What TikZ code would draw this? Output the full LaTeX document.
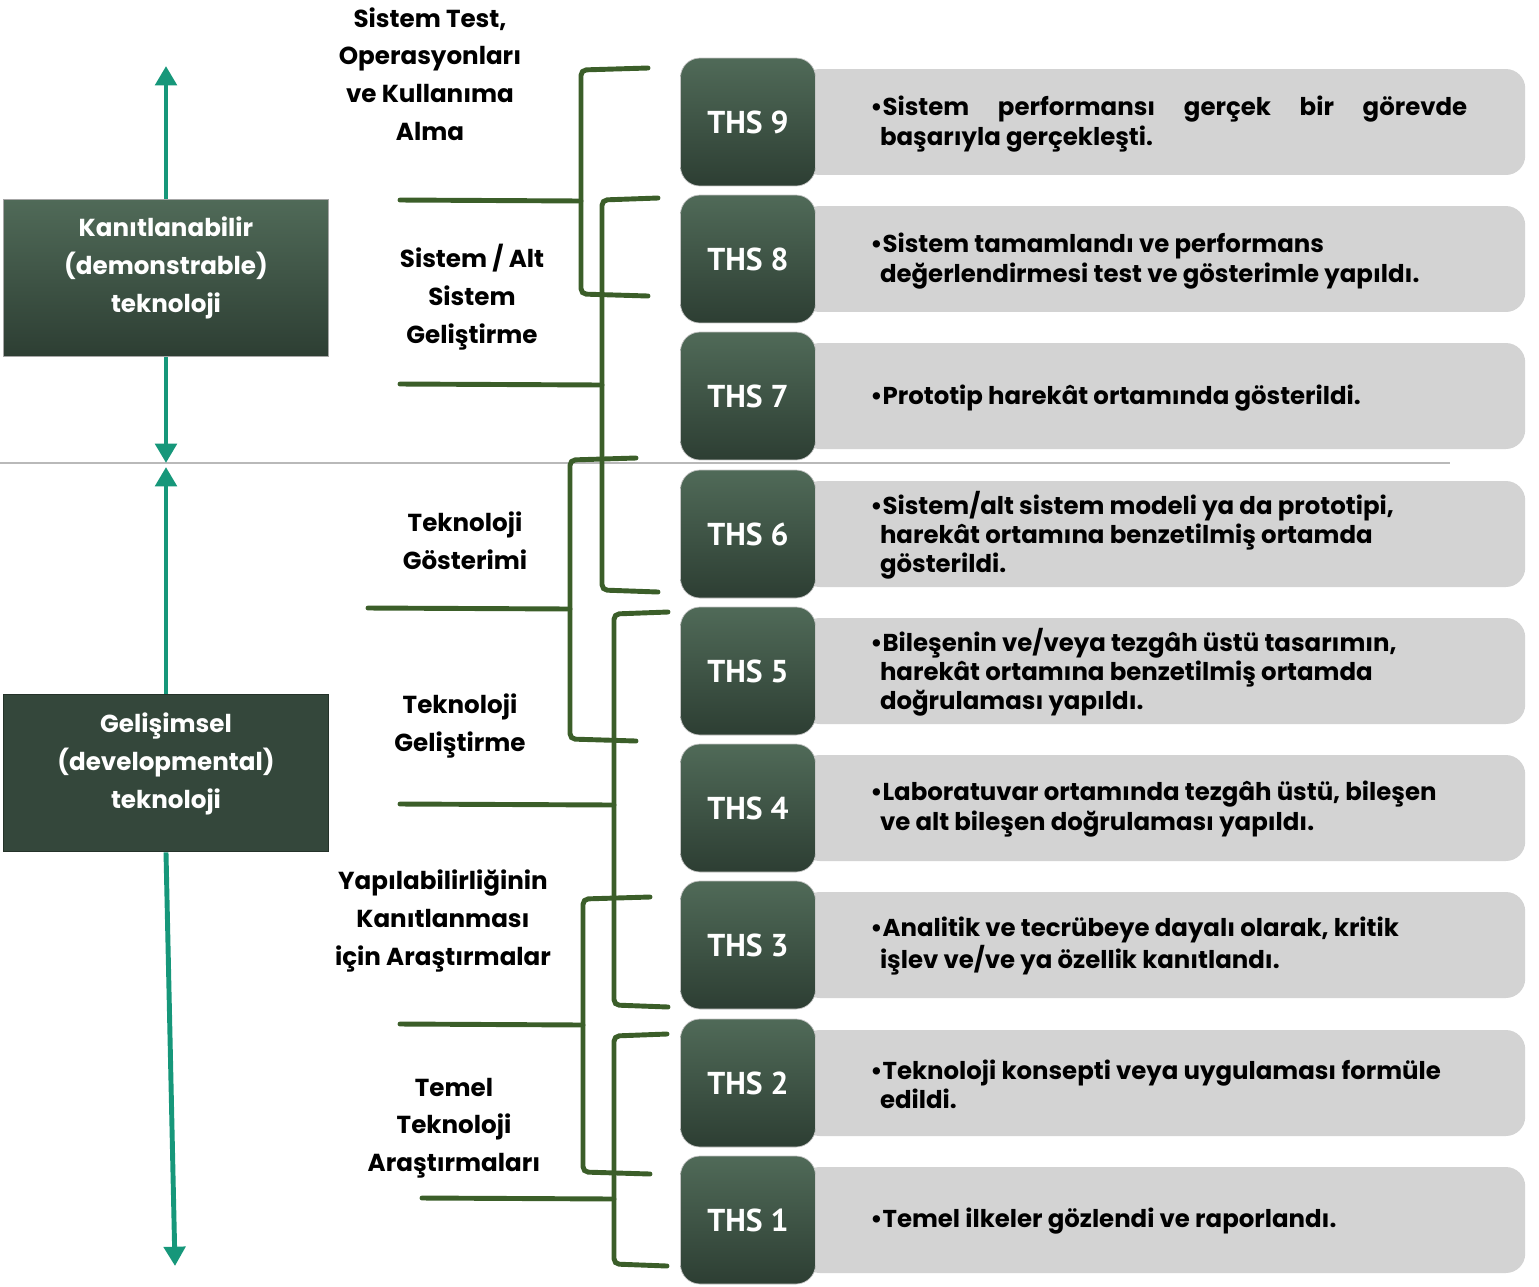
\documentclass[tikz,border=0pt]{standalone}
\usepackage{fontspec}
\setmainfont{Poppins}
\newfontfamily\thsfont{PT Sans}
\usepackage{tikz}
\usetikzlibrary{positioning,arrows.meta}

\definecolor{teal1}{RGB}{22,151,122}
\definecolor{brgreen}{RGB}{59,94,41}
\definecolor{boxtop}{RGB}{80,106,88}
\definecolor{boxbot}{RGB}{45,62,51}
\definecolor{gbox}{RGB}{211,211,211}
\definecolor{devbox}{RGB}{52,71,59}

\begin{document}
\begin{tikzpicture}[x=0.02cm,y=-0.02cm]
\useasboundingbox (0,0) rectangle (1539,1286);

\tikzstyle{lvl}=[rounded corners=11pt, minimum width=2.7cm, minimum height=2.56cm,
                 top color=boxtop, bottom color=boxbot, draw=gray!45, line width=0.4pt,
                 text=white, font=\thsfont\bfseries\fontsize{18}{22}\selectfont]
\tikzstyle{gbar}=[rounded corners=11pt, minimum width=14.5cm, minimum height=2.12cm,
                  fill=gbox, anchor=west]
\tikzstyle{desc}=[anchor=west, align=left, inner sep=0pt,
                  font=\bfseries\fontsize{13.9}{16.6}\selectfont]
\tikzstyle{phase}=[align=center, font=\bfseries\fontsize{14}{21.5}\selectfont]
\tikzstyle{kind}=[minimum width=6.5cm, minimum height=3.14cm, line width=1pt]
\tikzstyle{kindtxt}=[align=center, text=white, font=\bfseries\fontsize{14}{21.5}\selectfont]
\tikzstyle{brk}=[draw=brgreen, line width=2.8pt, line cap=round, rounded corners=3pt]
\tikzstyle{arr}=[draw=teal1, line width=2.8pt, -{Triangle[width=12pt,length=11pt]}]

% separator
\coordinate (sepL) at (0,463);
\coordinate (sepR) at (1450,463);
\draw[gray!55, line width=1pt] (sepL) -- (sepR);

% levels
\foreach \n/\y in {9/122,8/259,7/396,6/534,5/671,4/808,3/945,2/1083,1/1220}{
  \node[gbar] (g\n) at (800,\y) {};
  \node[lvl] (t\n) at (748,\y) {THS \n};
}

\node[desc] (d9) at (870,124) {\makebox[11.94cm][s]{•Sistem performansı gerçek bir görevde}\\\hspace*{5.5pt}başarıyla gerçekleşti.};
\node[desc] (d8) at (870,261) {•Sistem tamamlandı ve performans\\\hspace*{5.5pt}değerlendirmesi test ve gösterimle yapıldı.};
\node[desc] (d7) at (870,398) {•Prototip harekât ortamında gösterildi.};
\node[desc] (d6) at (870,535) {•Sistem/alt sistem modeli ya da prototipi,\\\hspace*{5.5pt}harekât ortamına benzetilmiş ortamda\\\hspace*{5.5pt}gösterildi.};
\node[desc] (d5) at (870,672) {•Bileşenin ve/veya tezgâh üstü tasarımın,\\\hspace*{5.5pt}harekât ortamına benzetilmiş ortamda\\\hspace*{5.5pt}doğrulaması yapıldı.};
\node[desc] (d4) at (870,809) {•Laboratuvar ortamında tezgâh üstü, bileşen\\\hspace*{5.5pt}ve alt bileşen doğrulaması yapıldı.};
\node[desc] (d3) at (870,946) {•Analitik ve tecrübeye dayalı olarak, kritik\\\hspace*{5.5pt}işlev ve/ve ya özellik kanıtlandı.};
\node[desc] (d2) at (870,1084) {•Teknoloji konsepti veya uygulaması formüle\\\hspace*{5.5pt}edildi.};
\node[desc] (d1) at (870,1221) {•Temel ilkeler gözlendi ve raporlandı.};

% brackets: name/x/top/bottom/arm end/stem x/stem y
\foreach \k/\x/\ya/\yb/\xe/\sx/\sy in {A/581/68/296/648/400/200, B/602/198/592/658/400/384,
    C/570/458/741/636/368/608, D/614/612/1007/668/400/804, E/583/897/1174/650/400/1024,
    F/614/1034/1266/667/422/1198}{
  \coordinate (\k1) at (\xe,\ya);
  \coordinate (\k2) at (\x,\ya+2);
  \coordinate (\k3) at (\x,\yb-2);
  \coordinate (\k4) at (\xe,\yb);
  \coordinate (\k5) at (\sx,\sy);
  \coordinate (\k6) at (\x,\sy+1);
  \draw[brk] (\k1) -- (\k2) -- (\k3) -- (\k4);
  \draw[brk] (\k5) -- (\k6);
}

% phase labels
\node[phase] (p1) at (430,74) {Sistem Test,\\Operasyonları\\ve Kullanıma\\Alma};
\node[phase] (p2) at (472,297) {Sistem / Alt\\Sistem\\Geliştirme};
\node[phase] (p3) at (465,541) {Teknoloji\\Gösterimi};
\node[phase] (p4) at (460,726) {Teknoloji\\Geliştirme};
\node[phase] (p5) at (443,921) {Yapılabilirliğinin\\Kanıtlanması\\için Araştırmalar};
\node[phase] (p6) at (454,1128) {Temel\\Teknoloji\\Araştırmaları};

% kinds of technology
\node[kind, top color=boxtop, bottom color=boxbot, draw=gray!70] (kanit) at (166,278) {};
\node[kindtxt] (kanitlbl) at (166,268) {Kanıtlanabilir\\(demonstrable)\\teknoloji};
\node[kind, fill=devbox, draw=boxbot!80!black] (gelis) at (166,773) {};
\node[kindtxt] (gelislbl) at (166,764) {Gelişimsel\\(developmental)\\teknoloji};

\coordinate (topA) at (166,66);
\coordinate (midA) at (166,463);
\coordinate (midB) at (166,467);
\coordinate (botB) at (175,1266);
\draw[arr] (kanit.north) -- (topA);
\draw[arr] (kanit.south) -- (midA);
\draw[arr] (gelis.north) -- (midB);
\draw[arr] (gelis.south) -- (botB);

\end{tikzpicture}
\end{document}
